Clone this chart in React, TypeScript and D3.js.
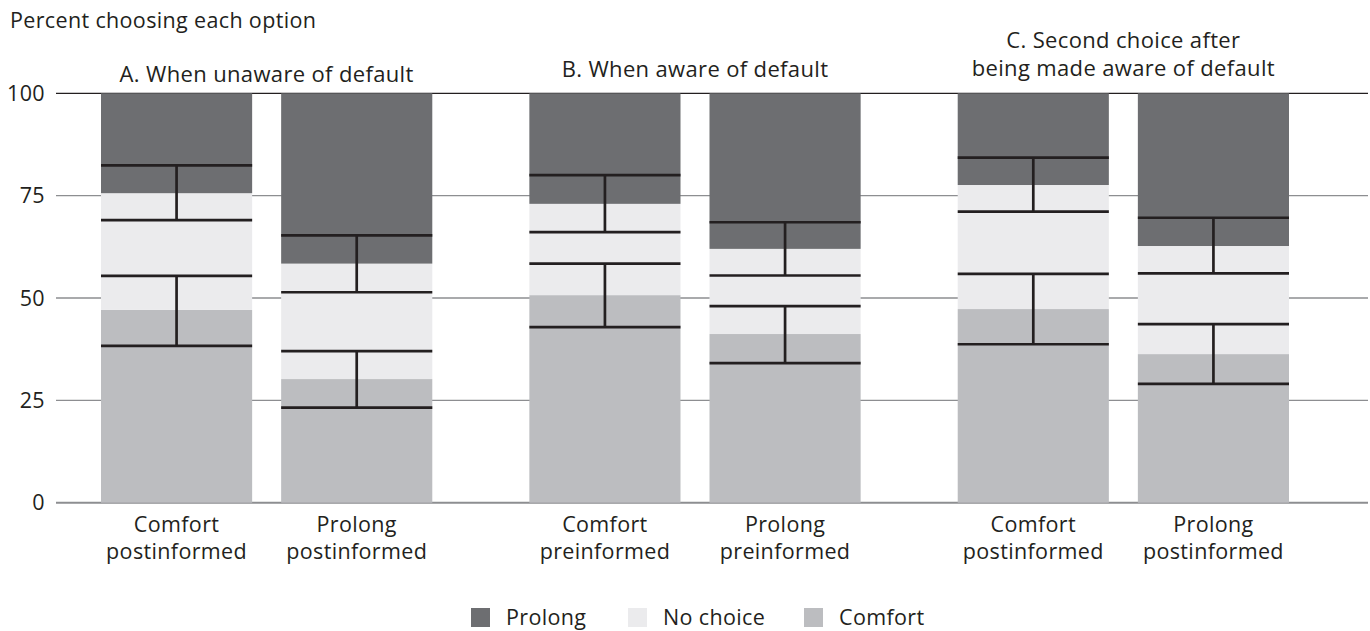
import React from 'react';
import * as d3 from 'd3';

// categories
const groups = ['A', 'B', 'C'];
const groupTitles = [
  ['A. When unaware of default'],
  ['B. When aware of default'],
  ['C. Second choice after', 'being made aware of default'],
];
const barLabels = [
  ['Comfort', 'postinformed'],
  ['Prolong', 'postinformed'],
  ['Comfort', 'preinformed'],
  ['Prolong', 'preinformed'],
  ['Comfort', 'postinformed'],
  ['Prolong', 'postinformed'],
];

// series values (percent)
const comfort = [47.1, 30.2, 50.7, 41.2, 47.3, 36.3];
const noChoice = [28.5, 28.2, 22.3, 20.8, 30.3, 26.4];
const prolong = [24.4, 41.6, 27.0, 38.0, 22.4, 37.3];

// confidence intervals: around comfort top, and around comfort+no choice top
const lowerCILow = [38.3, 23.2, 42.9, 34.1, 38.7, 29.0];
const lowerCIHigh = [55.4, 37.0, 58.4, 48.0, 55.9, 43.6];
const upperCILow = [69.0, 51.4, 66.1, 55.5, 71.1, 56.0];
const upperCIHigh = [82.4, 65.3, 80.0, 68.5, 84.3, 69.6];

const yTicks = [0, 25, 50, 75, 100];
const seriesKeys = ['comfort', 'noChoice', 'prolong'];
const legendLabels = ['Prolong', 'No choice', 'Comfort'];

const W = 1370;
const H = 631;
const FONT = '"Open Sans", sans-serif';
const FS = 21.5;
const LS = 0.35;
const TEXT = '#231f20';
const colors = { prolong: '#6d6e71', noChoice: '#ebebed', comfort: '#bcbdc0' };

export default function App() {
  const rows = comfort.map((c, i) => ({
    idx: i,
    group: groups[Math.floor(i / 2)],
    comfort: c,
    noChoice: noChoice[i],
    prolong: prolong[i],
  }));

  const y = d3.scaleLinear().domain([0, 100]).range([502.7, 93.3]);

  const xGroup = d3.scaleBand().domain(groups).range([101, 1289]).paddingInner(0.2266).paddingOuter(0);
  const xInner = d3.scaleBand().domain(['0', '1']).range([0, xGroup.bandwidth()]).paddingInner(0.161).paddingOuter(0);
  const barX = (i) => xGroup(groups[Math.floor(i / 2)]) + xInner(String(i % 2));
  const bw = xInner.bandwidth();

  const stacked = d3.stack().keys(seriesKeys)(rows);

  const legendX = [471, 628, 804];
  const legendColors = [colors.prolong, colors.noChoice, colors.comfort];

  const errBar = (i, lo, hi, key) => {
    const x0 = barX(i);
    const cx = x0 + bw / 2;
    return (
      <g key={key} stroke={TEXT} strokeWidth={2.7}>
        <line x1={x0} x2={x0 + bw} y1={y(hi)} y2={y(hi)} />
        <line x1={x0} x2={x0 + bw} y1={y(lo)} y2={y(lo)} />
        <line x1={cx} x2={cx} y1={y(hi)} y2={y(lo)} />
      </g>
    );
  };

  return (
    <svg width={W} height={H} style={{ position: 'absolute', left: 0, top: 0, background: '#fff' }}
      fontFamily={FONT} letterSpacing={LS}>
      <text x={10} y={28} fontSize={FS} fill={TEXT}>Percent choosing each option</text>

      {/* grid */}
      {yTicks.map((t) => (
        <g key={t}>
          <line
            x1={56} x2={1368} y1={y(t)} y2={y(t)}
            stroke={t === 100 ? '#231f20' : '#8d8e91'}
            strokeWidth={t === 0 ? 2 : 1.3}
          />
          <text x={45} y={y(t)} dy="0.35em" textAnchor="end" fontSize={FS} fill={TEXT}>{t}</text>
        </g>
      ))}

      {/* stacked bars */}
      {stacked.map((s) => (
        <g key={s.key} fill={colors[s.key]}>
          {s.map((d, i) => (
            <rect key={i} x={barX(i)} width={bw} y={y(d[1])} height={y(d[0]) - y(d[1])} />
          ))}
        </g>
      ))}

      {/* error bars */}
      {rows.map((r, i) => errBar(i, lowerCILow[i], lowerCIHigh[i], 'lo' + i))}
      {rows.map((r, i) => errBar(i, upperCILow[i], upperCIHigh[i], 'hi' + i))}

      {/* panel titles */}
      {groups.map((g, gi) => {
        const cx = xGroup(g) + xGroup.bandwidth() / 2;
        const lines = groupTitles[gi];
        const base = lines.length === 1 ? (gi === 0 ? 82 : 77) : 48;
        return (
          <g key={g}>
            {lines.map((l, li) => (
              <text key={li} x={cx} y={base + li * 28} textAnchor="middle" fontSize={FS + 0.5} fill={TEXT}>{l}</text>
            ))}
          </g>
        );
      })}

      {/* x labels */}
      {barLabels.map((lines, i) => {
        const cx = barX(i) + bw / 2;
        return (
          <g key={i}>
            {lines.map((l, li) => (
              <text key={li} x={cx} y={532 + li * 27} textAnchor="middle" fontSize={FS} fill={TEXT}>{l}</text>
            ))}
          </g>
        );
      })}

      {/* legend */}
      {legendLabels.map((l, i) => (
        <g key={l}>
          <rect x={legendX[i]} y={608} width={19} height={19} fill={legendColors[i]} />
          <text x={legendX[i] + 35} y={625} fontSize={FS} fill={TEXT}>{l}</text>
        </g>
      ))}
    </svg>
  );
}
